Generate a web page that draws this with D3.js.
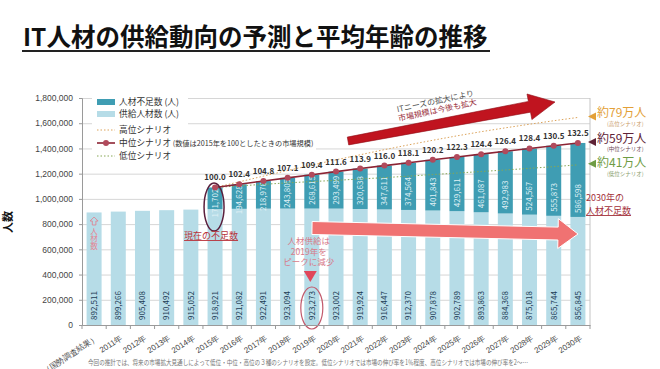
<!DOCTYPE html>
<html>
<head>
<meta charset="utf-8">
<script src="https://cdn.jsdelivr.net/npm/d3@7"></script>
<style>
  body { margin: 0; background: #fff; }
  svg { display: block; font-family: "Noto Sans CJK JP", "Noto Sans", sans-serif; }
  .axis text { font-size: 8.5px; fill: #444; }
  .axis path, .axis line { stroke: #9a9a9a; }
  .grid line { stroke: #d6d6d6; }
  .grid path { display: none; }
  .legend text { font-size: 8.7px; fill: #333; }
</style>
</head>
<body>
<svg id="chart"></svg>
<script>
// svg size and plot margins
const width = 660;
const height = 369;

const margin = {
  top: 98,
  bottom: 44,
  left: 82,
  right: 70
};

const plotWidth = width - margin.left - margin.right;
const plotHeight = height - margin.top - margin.bottom;

// categories
const years = [
  '2010年（国勢調査結果）', '2011年', '2012年', '2013年', '2014年', '2015年',
  '2016年', '2017年', '2018年', '2019年', '2020年', '2021年', '2022年',
  '2023年', '2024年', '2025年', '2026年', '2027年', '2028年', '2029年', '2030年'
];

// 供給人材数（人）
const supply = [
  892511, 899266, 905408, 910492, 915052, 918921, 921082, 922491, 923094, 923273,
  923002, 919924, 916447, 912370, 907878, 902789, 893863, 884368, 875018, 865744, 856845
];

// forecast years carry the shortage and the scenarios
const forecastYears = [
  '2015年', '2016年', '2017年', '2018年', '2019年', '2020年', '2021年', '2022年',
  '2023年', '2024年', '2025年', '2026年', '2027年', '2028年', '2029年', '2030年'
];

// 人材不足数（人）, 中位シナリオ
const shortage = [
  171702, 194628, 218976, 243805, 268615, 293499, 320638, 347611,
  374564, 401843, 429611, 461087, 492983, 524567, 555873, 586598
];

// 市場規模 (2015 = 100)
const marketIndex = [
  100.0, 102.4, 104.8, 107.1, 109.4, 111.6, 113.9, 116.0,
  118.1, 120.2, 122.3, 124.4, 126.4, 128.4, 130.5, 132.5
];

// 高位 / 低位シナリオの不足数 (estimated from the dotted lines)
const highShortage = [
  171702, 214000, 258000, 302000, 345000, 387000, 430000, 474000,
  516000, 557000, 597000, 639000, 679000, 717000, 754000, 789000
];
const lowShortage = [
  171702, 182000, 193000, 204000, 214000, 224000, 238000, 252000,
  268000, 285000, 302000, 323000, 345000, 367000, 390000, 413000
];

const yTicks = [0, 200000, 400000, 600000, 800000, 1000000, 1200000, 1400000, 1600000, 1800000];

const colors = {
  shortage: '#3f9db3',
  supply: '#b6dce7',
  mid: '#8c2434',
  midMarker: '#b14a5c',
  high: '#dca35a',
  low: '#86a755',
  note: '#b8323a'
};

const svg = d3.select('#chart')
  .attr('width', width)
  .attr('height', height);

svg.append('rect').attr('width', width).attr('height', height).attr('fill', '#fff');

const plot = svg.append('g')
  .attr('id', 'plot')
  .attr('transform', translate(margin.left, margin.top));

const scales = {
  x: d3.scaleBand(),
  y: d3.scaleLinear()
};

scales.x.domain(years)
  .range([0, plotWidth])
  .paddingInner(0.38)
  .paddingOuter(0.19);

scales.y.domain([0, 1800000])
  .range([plotHeight, 0]);

const center = year => scales.x(year) + scales.x.bandwidth() / 2;

const forecast = forecastYears.map((year, i) => {
  const s = supply[years.indexOf(year)];
  return {
    year: year,
    supply: s,
    shortage: shortage[i],
    index: marketIndex[i],
    total: s + shortage[i],
    high: s + highShortage[i],
    low: s + lowShortage[i]
  };
});

drawTitle();
drawGrid();
drawBars();
drawScenarios();
drawAnnotations();
drawLegend();
drawAxis();

function drawTitle() {
  svg.append('text')
    .attr('x', 23)
    .attr('y', 46)
    .style('font-size', '24.5px')
    .style('font-weight', 'bold')
    .attr('fill', '#111')
    .text('IT人材の供給動向の予測と平均年齢の推移');

  svg.append('line')
    .attr('x1', 22).attr('x2', 490)
    .attr('y1', 51).attr('y2', 51)
    .attr('stroke', '#222')
    .attr('stroke-width', 2);

  // y axis title
  svg.append('text')
    .attr('transform', translate(8, 222) + ' rotate(-90)')
    .attr('text-anchor', 'middle')
    .attr('dy', '0.35em')
    .style('font-size', '11px')
    .style('font-weight', 'bold')
    .attr('fill', '#111')
    .text('人数');

  // footnote
  svg.append('text')
    .attr('x', 88)
    .attr('y', 365)
    .style('font-size', '7px')
    .attr('fill', '#777')
    .attr('textLength', 440)
    .attr('lengthAdjust', 'spacingAndGlyphs')
    .text('今回の推計では、将来の市場拡大見通しによって低位・中位・高位の３種のシナリオを設定。低位シナリオでは市場の伸び率を1％程度、高位シナリオでは市場の伸び率を2〜…');
}

function drawGrid() {
  plot.append('g')
    .attr('class', 'grid')
    .call(d3.axisLeft(scales.y)
      .tickValues(yTicks)
      .tickSize(-plotWidth)
      .tickFormat(''));

  // right frame of the plot area
  plot.append('line')
    .attr('x1', plotWidth).attr('x2', plotWidth)
    .attr('y1', 0).attr('y2', plotHeight)
    .attr('stroke', '#c4c4c4');
}

function drawBars() {
  const bw = scales.x.bandwidth();
  const group = plot.append('g').attr('id', 'bars');

  group.selectAll('rect.supply')
    .data(years)
    .enter()
    .append('rect')
    .attr('class', 'supply')
    .attr('x', d => scales.x(d))
    .attr('y', (d, i) => scales.y(supply[i]))
    .attr('width', bw)
    .attr('height', (d, i) => plotHeight - scales.y(supply[i]))
    .attr('fill', colors.supply);

  group.selectAll('rect.shortage')
    .data(forecast)
    .enter()
    .append('rect')
    .attr('class', 'shortage')
    .attr('x', d => scales.x(d.year))
    .attr('y', d => scales.y(d.total))
    .attr('width', bw)
    .attr('height', d => scales.y(d.supply) - scales.y(d.total))
    .attr('fill', colors.shortage);

  const labels = plot.append('g').attr('id', 'bar-labels');

  labels.selectAll('text.supply')
    .data(years)
    .enter()
    .append('text')
    .attr('transform', d => translate(center(d), plotHeight - 5) + ' rotate(-90)')
    .attr('dy', '0.35em')
    .style('font-size', '8px')
    .attr('fill', '#1d3b55')
    .text((d, i) => d3.format(',')(supply[i]));

  // labels sit at the base of the shortage segment, pushed down when the segment is short
  labels.selectAll('text.shortage')
    .data(forecast)
    .enter()
    .append('text')
    .attr('transform', d => {
      const bottom = scales.y(d.supply) - 4;
      const top = scales.y(d.total) + 30;
      return translate(center(d.year), Math.max(bottom, top)) + ' rotate(-90)';
    })
    .attr('dy', '0.35em')
    .style('font-size', '8px')
    .attr('fill', '#dff0f5')
    .text(d => d3.format(',')(d.shortage));
}

function drawScenarios() {
  const line = key => d3.line()
    .x(d => center(d.year))
    .y(d => scales.y(d[key]));

  plot.append('path')
    .datum(forecast)
    .attr('d', line('high'))
    .attr('fill', 'none')
    .attr('stroke', colors.high)
    .attr('stroke-width', 1)
    .attr('stroke-dasharray', '1.5,2');

  plot.append('path')
    .datum(forecast)
    .attr('d', line('low'))
    .attr('fill', 'none')
    .attr('stroke', colors.low)
    .attr('stroke-width', 1)
    .attr('stroke-dasharray', '1.5,2');

  plot.append('path')
    .datum(forecast)
    .attr('d', line('total'))
    .attr('fill', 'none')
    .attr('stroke', colors.mid)
    .attr('stroke-width', 1.6);

  plot.append('g').selectAll('circle')
    .data(forecast)
    .enter()
    .append('circle')
    .attr('cx', d => center(d.year))
    .attr('cy', d => scales.y(d.total))
    .attr('r', 3)
    .attr('fill', colors.midMarker);

  plot.append('g').selectAll('text')
    .data(forecast)
    .enter()
    .append('text')
    .attr('x', d => center(d.year))
    .attr('y', d => scales.y(d.total) - 7)
    .attr('text-anchor', 'middle')
    .style('font-size', '8px')
    .style('font-weight', 600)
    .attr('fill', '#333')
    .text(d => d3.format('.1f')(d.index));
}

function drawAnnotations() {
  const group = plot.append('g').attr('id', 'annotations');

  // big red arrow: market keeps growing
  group.append('path')
    .attr('d', arrowShape(266, 43, 473, 4, 4, 5.5, 26, 13))
    .attr('fill', '#c0141f')
    .attr('stroke', '#8e0d15')
    .attr('stroke-width', 0.6);

  group.append('text')
    .attr('transform', translate(354, 6) + ' rotate(-12)')
    .attr('text-anchor', 'middle')
    .style('font-size', '8px')
    .attr('fill', '#555')
    .text('ITニーズの拡大により');
  group.append('text')
    .attr('transform', translate(356, 15) + ' rotate(-12)')
    .attr('text-anchor', 'middle')
    .style('font-size', '8px')
    .attr('fill', '#9a3040')
    .text('市場規模は今後も拡大');

  // pink arrow: supply goes down
  group.append('path')
    .attr('d', arrowShape(230, 130, 496, 136, 6.5, 6.5, 20, 15))
    .attr('fill', '#f07272')
    .attr('stroke', '#fff')
    .attr('stroke-width', 1);

  // current shortage
  const c2015 = center('2015年');
  group.append('ellipse')
    .attr('cx', c2015 - 1)
    .attr('cy', 109)
    .attr('rx', 10)
    .attr('ry', 24)
    .attr('fill', 'none')
    .attr('stroke', '#5b1f3c')
    .attr('stroke-width', 1.5);
  group.append('text')
    .attr('x', c2015 - 4)
    .attr('y', 141)
    .attr('text-anchor', 'middle')
    .style('font-size', '9px')
    .style('text-decoration', 'underline')
    .attr('fill', colors.note)
    .text('現在の不足数');

  // supply peak
  const c2019 = center('2019年');
  const peak = group.append('text')
    .attr('text-anchor', 'middle')
    .style('font-size', '8.5px')
    .attr('fill', '#d77b8a');
  ['人材供給は', '2019年を', 'ピークに減少'].forEach((t, i) => {
    peak.append('tspan').attr('x', c2019 - 3).attr('y', 146 + i * 10.5).text(t);
  });
  group.append('path')
    .attr('d', 'M' + (c2019 - 8) + ',173 L' + (c2019 + 5) + ',173 L' + (c2019 - 1.5) + ',184 Z')
    .attr('fill', '#e0465a');
  group.append('ellipse')
    .attr('cx', c2019)
    .attr('cy', 210)
    .attr('rx', 11)
    .attr('ry', 21)
    .attr('fill', 'none')
    .attr('stroke', '#c25a6c')
    .attr('stroke-width', 1.2);

  // 2030 shortage note
  const n2030 = group.append('text')
    .style('font-size', '9px')
    .attr('fill', '#a3303a');
  n2030.append('tspan').attr('x', 504).attr('y', 103).text('2030年の');
  n2030.append('tspan').attr('x', 504).attr('y', 116)
    .style('text-decoration', 'underline')
    .text('人材不足数');

  // first bar note, written vertically
  const c2010 = center(years[0]);
  group.append('path')
    .attr('d', 'M' + c2010 + ',119 l-4,4 h2.2 v4 h3.6 v-4 h2.2 Z')
    .attr('fill', 'none')
    .attr('stroke', '#e27b8a')
    .attr('stroke-width', 0.8);
  group.append('text')
    .attr('x', c2010)
    .attr('y', 129)
    .style('writing-mode', 'vertical-rl')
    .style('font-size', '7.5px')
    .attr('fill', '#e58391')
    .text('人材数');

  // scenario end labels
  const ends = [
    { main: '約79万人', sub: '(高位シナリオ)', color: '#e3a037', subColor: '#c99a66', key: 'high', shift: 0 },
    { main: '約59万人', sub: '(中位シナリオ)', color: '#5e2236', subColor: '#6e4a56', key: 'total', shift: 0 },
    { main: '約41万人', sub: '(低位シナリオ)', color: '#6f9c45', subColor: '#8aa06e', key: 'low', shift: 2.5 }
  ];
  const last = forecast[forecast.length - 1];
  ends.forEach(e => {
    const y = scales.y(last[e.key]);
    group.append('path')
      .attr('d', 'M' + (plotWidth - 2) + ',' + (y - 1) + ' l8,-4 v8 Z')
      .attr('fill', e.color);
    group.append('text')
      .attr('x', plotWidth + 7)
      .attr('y', y + e.shift)
      .style('font-size', '12px')
      .attr('fill', e.color)
      .text(e.main);
    group.append('text')
      .attr('x', plotWidth + 17)
      .attr('y', y + e.shift + 8.5)
      .style('font-size', '5.5px')
      .attr('fill', e.subColor)
      .text(e.sub);
  });
}

function drawLegend() {
  const group = plot.append('g')
    .attr('class', 'legend')
    .attr('transform', translate(10, 0));

  group.append('rect')
    .attr('x', 0).attr('y', -3)
    .attr('width', 96).attr('height', 66)
    .attr('fill', '#fff');
  group.append('rect')
    .attr('x', 90).attr('y', 38)
    .attr('width', 134).attr('height', 14)
    .attr('fill', '#fff');

  const rows = [
    { label: '人材不足数 (人)', y: 4, type: 'box', color: colors.shortage },
    { label: '供給人材数 (人)', y: 16, type: 'box', color: colors.supply },
    { label: '高位シナリオ', y: 32, type: 'dot', color: colors.high },
    { label: '中位シナリオ', extra: ' (数値は2015年を100としたときの市場規模)', y: 45, type: 'line', color: colors.mid },
    { label: '低位シナリオ', y: 58, type: 'dot', color: colors.low }
  ];

  rows.forEach(r => {
    if (r.type === 'box') {
      group.append('rect')
        .attr('x', 5).attr('y', r.y - 3)
        .attr('width', 18).attr('height', 6)
        .attr('fill', r.color);
    } else {
      group.append('line')
        .attr('x1', 5).attr('x2', 23)
        .attr('y1', r.y).attr('y2', r.y)
        .attr('stroke', r.color)
        .attr('stroke-width', r.type === 'line' ? 1.6 : 1)
        .attr('stroke-dasharray', r.type === 'dot' ? '1.5,2' : null);
      if (r.type === 'line') {
        group.append('circle')
          .attr('cx', 14).attr('cy', r.y).attr('r', 3)
          .attr('fill', colors.midMarker);
      }
    }
    const text = group.append('text')
      .attr('x', 27)
      .attr('y', r.y)
      .attr('dy', '0.35em')
      .text(r.label);
    if (r.extra) {
      text.append('tspan')
        .style('font-size', '7.2px')
        .text(r.extra);
    }
  });
}

function drawAxis() {
  const yGroup = plot.append('g').attr('class', 'axis');
  yGroup.call(d3.axisLeft(scales.y)
    .tickValues(yTicks)
    .tickFormat(d3.format(','))
    .tickSizeOuter(0)
    .tickSize(3)
    .tickPadding(6));

  const xGroup = plot.append('g')
    .attr('class', 'axis')
    .attr('transform', translate(0, plotHeight));
  xGroup.call(d3.axisBottom(scales.x)
    .tickSize(0)
    .tickSizeOuter(0));

  xGroup.selectAll('.tick text')
    .attr('x', 0)
    .attr('y', 0)
    .attr('dy', '0.35em')
    .attr('text-anchor', 'end')
    .style('font-size', '8px')
    .attr('transform', translate(3, 12) + ' rotate(-33)');

  // category boundary ticks
  const step = scales.x.step();
  const first = scales.x(years[0]) - (step - scales.x.bandwidth()) / 2;
  xGroup.selectAll('line.boundary')
    .data(d3.range(years.length + 1))
    .enter()
    .append('line')
    .attr('class', 'boundary')
    .attr('x1', i => first + i * step)
    .attr('x2', i => first + i * step)
    .attr('y1', 0)
    .attr('y2', 4);
}

/*
 * block arrow from (x0, y0) to the tip (x1, y1)
 * h0/h1 are half widths of the shaft at tail and head
 */
function arrowShape(x0, y0, x1, y1, h0, h1, headLen, headHalf) {
  const dx = x1 - x0;
  const dy = y1 - y0;
  const len = Math.sqrt(dx * dx + dy * dy);
  const ux = dx / len;
  const uy = dy / len;
  const nx = -uy;
  const ny = ux;
  const bx = x1 - ux * headLen;
  const by = y1 - uy * headLen;

  const pts = [
    [x0 + nx * h0, y0 + ny * h0],
    [bx + nx * h1, by + ny * h1],
    [bx + nx * headHalf, by + ny * headHalf],
    [x1, y1],
    [bx - nx * headHalf, by - ny * headHalf],
    [bx - nx * h1, by - ny * h1],
    [x0 - nx * h0, y0 - ny * h0]
  ];
  return 'M' + pts.map(p => p[0].toFixed(1) + ',' + p[1].toFixed(1)).join('L') + 'Z';
}

function translate(x, y) {
  return 'translate(' + String(x) + ',' + String(y) + ')';
}
</script>
</body>
</html>
